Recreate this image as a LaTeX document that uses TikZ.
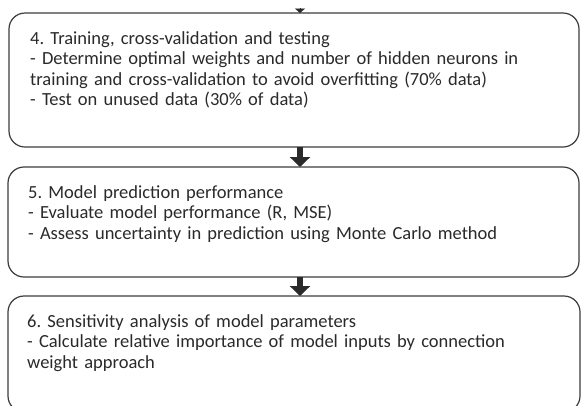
\documentclass[tikz,border=0pt]{standalone}
\usepackage{fontspec}
\setmainfont{Carlito}
\frenchspacing
\usetikzlibrary{arrows.meta,calc}
\definecolor{edge}{HTML}{3C3C3C}
\definecolor{ink}{HTML}{2A2A2A}
\tikzset{
  stepbox/.style={draw=edge, line width=1.2pt, rounded corners=16pt, fill=white,
    anchor=north west, inner sep=0pt, outer sep=0pt},
  steptext/.style={anchor=base west, inner sep=0pt, text width=560pt, align=left,
    text=ink, font=\fontsize{18.5}{20.5}\selectfont},
  blockarrow/.style={draw=ink, line width=6pt, -{Triangle[width=20pt,length=10pt]}},
  smallarrow/.style={draw=ink, line width=0.1pt, -{Triangle[width=10pt,length=4.5pt]}}
}
\begin{document}
\begin{tikzpicture}[x=1pt,y=-1pt]
\useasboundingbox (0,0) rectangle (581,405);
\node[stepbox, minimum width=570pt, minimum height=134pt] (b4) at (9,13) {};
\node[stepbox, minimum width=571pt, minimum height=110pt] (b5) at (8,167) {};
\node[stepbox, minimum width=572pt, minimum height=116pt] (b6) at (8,296) {};
\node[steptext] (t4) at ($(b4.north west)+(21,31)$) {4. Training, cross-validation and testing\\
- Determine optimal weights and number of hidden neurons in\\
training and cross-validation to avoid overfitting (70\% data)\\
- Test on unused data (30\% of data)};
\node[steptext] (t5) at ($(b5.north west)+(20,31)$) {5. Model prediction performance\\
- Evaluate model performance (R, MSE)\\
- Assess uncertainty in prediction using Monte Carlo method};
\node[steptext] (t6) at ($(b6.north west)+(19,31)$) {6. Sensitivity analysis of model parameters\\
- Calculate relative importance of model inputs by connection\\
weight approach};
\coordinate (in) at (300,8);
\draw[smallarrow] (in) -- (in |- b4.north);
\draw[blockarrow] (in |- b4.south) -- (in |- b5.north);
\draw[blockarrow] (in |- b5.south) -- (in |- b6.north);
\end{tikzpicture}
\end{document}
